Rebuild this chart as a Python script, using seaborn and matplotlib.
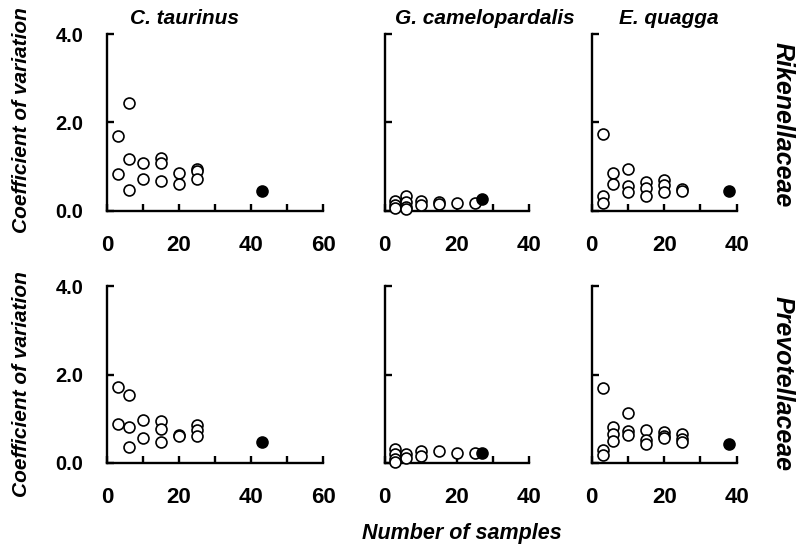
import matplotlib
matplotlib.use("Agg")
import matplotlib.pyplot as plt
import seaborn as sns
import pandas as pd
from matplotlib.ticker import FuncFormatter

# ---------------- data ----------------
species = ["C. taurinus", "G. camelopardalis", "E. quagga"]
families = ["Rikenellaceae", "Prevotellaceae"]

taurinus_rik_n = [3, 3, 6, 6, 6, 10, 10, 15, 15, 15, 20, 20, 25, 25, 25]
taurinus_rik_cv = [1.70, 0.84, 2.43, 1.17, 0.47, 1.09, 0.73, 1.19, 1.08, 0.67, 0.85, 0.62, 0.96, 0.90, 0.72]
taurinus_rik_all_n = [43]
taurinus_rik_all_cv = [0.46]

taurinus_prev_n = [3, 3, 6, 6, 6, 10, 10, 15, 15, 15, 20, 20, 25, 25, 25]
taurinus_prev_cv = [1.71, 0.88, 1.53, 0.82, 0.36, 0.97, 0.57, 0.95, 0.77, 0.48, 0.64, 0.60, 0.85, 0.74, 0.61]
taurinus_prev_all_n = [43]
taurinus_prev_all_cv = [0.48]

giraffe_rik_n = [3, 3, 3, 6, 6, 6, 6, 10, 10, 15, 15, 20, 25]
giraffe_rik_cv = [0.23, 0.14, 0.06, 0.33, 0.21, 0.10, 0.04, 0.23, 0.14, 0.21, 0.16, 0.19, 0.19]
giraffe_rik_all_n = [27]
giraffe_rik_all_cv = [0.26]

giraffe_prev_n = [3, 3, 3, 3, 6, 6, 10, 10, 15, 20, 25]
giraffe_prev_cv = [0.32, 0.20, 0.10, 0.03, 0.20, 0.11, 0.27, 0.16, 0.26, 0.23, 0.22]
giraffe_prev_all_n = [27]
giraffe_prev_all_cv = [0.22]

quagga_rik_n = [3, 3, 3, 6, 6, 10, 10, 10, 15, 15, 15, 20, 20, 20, 25, 25]
quagga_rik_cv = [1.73, 0.34, 0.19, 0.87, 0.60, 0.95, 0.57, 0.43, 0.65, 0.51, 0.35, 0.70, 0.58, 0.44, 0.49, 0.46]
quagga_rik_all_n = [38]
quagga_rik_all_cv = [0.45]

quagga_prev_n = [3, 3, 3, 6, 6, 6, 10, 10, 10, 15, 15, 15, 20, 20, 20, 25, 25, 25]
quagga_prev_cv = [1.70, 0.30, 0.17, 0.81, 0.65, 0.49, 1.12, 0.73, 0.63, 0.74, 0.51, 0.44, 0.71, 0.62, 0.56, 0.65, 0.55, 0.47]
quagga_prev_all_n = [38]
quagga_prev_all_cv = [0.43]

x_max = [60, 40, 40]
y_ticks = [0.0, 2.0, 4.0]

panels = {
    (0, 0): (taurinus_rik_n, taurinus_rik_cv, taurinus_rik_all_n, taurinus_rik_all_cv),
    (0, 1): (giraffe_rik_n, giraffe_rik_cv, giraffe_rik_all_n, giraffe_rik_all_cv),
    (0, 2): (quagga_rik_n, quagga_rik_cv, quagga_rik_all_n, quagga_rik_all_cv),
    (1, 0): (taurinus_prev_n, taurinus_prev_cv, taurinus_prev_all_n, taurinus_prev_all_cv),
    (1, 1): (giraffe_prev_n, giraffe_prev_cv, giraffe_prev_all_n, giraffe_prev_all_cv),
    (1, 2): (quagga_prev_n, quagga_prev_cv, quagga_prev_all_n, quagga_prev_all_cv),
}

# ---------------- style ----------------
sns.set_style("ticks")
plt.rcParams["font.family"] = ["Liberation Sans", "DejaVu Sans"]
plt.rcParams["text.color"] = "black"
plt.rcParams["axes.labelcolor"] = "black"
plt.rcParams["xtick.color"] = "black"
plt.rcParams["ytick.color"] = "black"
plt.rcParams["axes.edgecolor"] = "black"

W, H = 798, 550
fig = plt.figure(figsize=(W / 100, H / 100), dpi=100)

def fx(px):
    return px / W

def fy(py):
    return 1 - py / H

# axes boxes in pixels: (left, right) per column, (top, bottom) per row
cols_px = [(107, 323), (384.5, 529), (591.7, 736.7)]
rows_px = [(34, 211), (286, 463)]

for (r, c), (n, cv, n_all, cv_all) in panels.items():
    l, rt = cols_px[c]
    t, b = rows_px[r]
    ax = fig.add_axes([fx(l), fy(b), fx(rt - l), (b - t) / H])
    df = pd.DataFrame({"n": n, "cv": cv})
    df_all = pd.DataFrame({"n": n_all, "cv": cv_all})
    sns.scatterplot(data=df, x="n", y="cv", ax=ax, marker="o", s=62,
                    facecolor="white", edgecolor="black", linewidth=1.2,
                    clip_on=False, zorder=3)
    sns.scatterplot(data=df_all, x="n", y="cv", ax=ax, marker="o", s=62,
                    color="black", edgecolor="black", linewidth=1.2,
                    clip_on=False, zorder=4)
    ax.set_xlim(0, x_max[c])
    ax.set_ylim(0, 4.0)
    ax.set_xticks(list(range(0, x_max[c] + 1, 10)))
    ax.xaxis.set_major_formatter(FuncFormatter(lambda v, p: f"{int(v)}" if int(v) % 20 == 0 else ""))
    ax.set_yticks(y_ticks)
    if c == 0:
        ax.set_yticklabels([f"{v:.1f}" for v in y_ticks])
    else:
        ax.set_yticklabels([])
    ax.set_xlabel("")
    ax.set_ylabel("")
    sns.despine(ax=ax)
    for sp in ("left", "bottom"):
        ax.spines[sp].set_linewidth(1.7)
        ax.spines[sp].set_color("black")
    ax.tick_params(axis="both", direction="in", length=5, width=1.7,
                   color="black", labelcolor="black")
    ax.tick_params(axis="x", pad=17, labelsize=16)
    ax.tick_params(axis="y", pad=17, labelsize=14.5)
    for lab in ax.get_xticklabels() + ax.get_yticklabels():
        lab.set_fontweight("bold")
    ax.patch.set_alpha(0)

# column titles
title_x = [184, 485, 669]
for name, x in zip(species, title_x):
    fig.text(fx(x), fy(24), name, ha="center", va="baseline", color="black",
             fontsize=15, fontweight="bold", fontstyle="italic")

# row labels on the right
row_y = [125, 383]
for fam, y in zip(families, row_y):
    fig.text(fx(783), fy(y), fam, ha="center", va="center", rotation=-90,
             color="black", fontsize=18, fontweight="bold", fontstyle="italic")

# y labels
for y in [120, 384]:
    fig.text(fx(22), fy(y), "Coefficient of variation", ha="center", va="center",
             rotation=90, color="black", fontsize=15, fontweight="bold",
             fontstyle="italic")

# x label
fig.text(fx(462), fy(533), "Number of samples", ha="center", va="center",
         color="black", fontsize=15.5, fontweight="bold", fontstyle="italic")

fig.savefig("out.png", dpi=100, facecolor="white")
